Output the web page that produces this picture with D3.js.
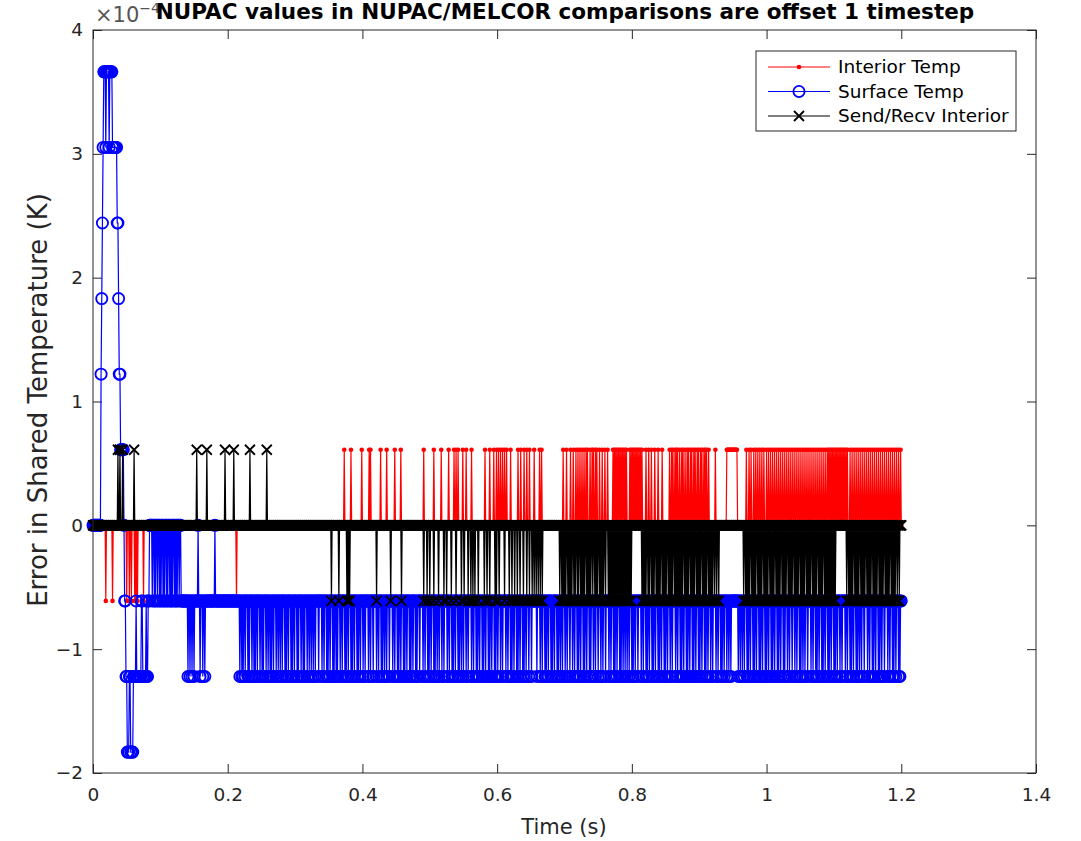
<!DOCTYPE html>
<html>
<head>
<meta charset="utf-8">
<script src="https://cdn.jsdelivr.net/npm/d3@7"></script>
<style>
body { margin: 0; background: #fff; }
svg { display: block; font-family: "DejaVu Sans", sans-serif; }
</style>
</head>
<body>
<svg id="chart" width="1081" height="841"></svg>
<script>
// time grid: one sample per millisecond, 0 .. 1.2 s
var stepMs = 1, endMs = 1200;
// every error is a whole number of this quantum (float ulp near 600 K)
var levelStep = 6.1035e-5;

var xTicks = [0, 0.2, 0.4, 0.6, 0.8, 1, 1.2, 1.4];
var yTicks = [-2e-4, -1e-4, 0, 1e-4, 2e-4, 3e-4, 4e-4];
var seriesNames = ["Interior Temp", "Surface Temp", "Send/Recv Interior"];

// base level breakpoints [ms, level]; spikes are one-sample excursions of +1 / -1 level (ms)
var redBase = [[0, 0], [941, 1], [957, 0]];
var redDown = [19, 29, 50, 54, 57, 62, 64, 66, 75, 213];
var redUp = [373, 383, 399, 410, 412, 427, 436, 448, 457, 491, 506, 517, 528, 536, 539, 542, 549, 554, 562,
  582, 589, 595, 599, 602, 605, 608, 611, 614, 620, 631, 635, 640, 644, 648, 655, 663, 666,
  698, 703, 709, 713, 717, 720, 723, 726, 729, 732, 734, 738, 741, 743, 746, 748, 752, 756, 760, 764,
  772, 774, 776, 778, 780, 782, 784, 786, 788, 790, 792,
  797, 799, 801, 803, 805, 807, 809, 811, 813, 815, 821, 825, 829, 834, 839, 845,
  856, 859, 861, 864, 866, 868, 871, 874, 876, 879, 882, 884, 887, 889, 892, 894, 897, 899, 902, 904, 907,
  909, 911, 914, 924,
  970, 974, 977, 981, 984, 987, 990, 993, 996, 1000, 1003, 1006, 1009, 1012, 1015, 1018, 1021, 1024, 1027,
  1030, 1033, 1036, 1039, 1042, 1045, 1048, 1051, 1054, 1057, 1060, 1063, 1066, 1069, 1072, 1075, 1078,
  1081, 1084, 1087, 1090, 1092, 1094, 1096, 1098, 1100, 1102, 1104, 1106, 1108, 1110, 1112, 1114, 1116,
  1118, 1120, 1124, 1127, 1130, 1133, 1136, 1139, 1142, 1145, 1148, 1151, 1154, 1157, 1160, 1163, 1166,
  1169, 1172, 1175, 1178, 1181, 1184, 1187, 1190, 1193, 1196, 1199];

var blueBase = [[0, 0], [12, 2], [13, 3], [14, 4], [15, 5], [16, 6], [19, 5], [20, 6], [24, 5], [25, 6], [29, 5],
  [36, 4], [38, 3], [39, 2], [41, 1], [46, 0], [47, -1], [49, -2], [51, -3], [54, -2], [56, -3], [60, -2],
  [64, -1], [65, -2], [72, -1], [74, -2], [79, -1], [80, -2], [82, -1], [84, 0], [131, -1]];
var blueUp = [156, 181];
var blueDown = [88, 91, 93, 96, 99, 101, 104, 106, 109, 111, 114, 116, 118, 121, 123, 125, 128,
  141, 144, 147, 150, 159, 163, 166,
  218, 221, 223, 226, 230, 232, 236, 239, 241, 244, 248, 251, 253, 257, 260, 263, 265, 268, 272, 275, 278,
  281, 285, 287, 290, 294, 296, 299, 303, 305, 309, 312, 314, 318, 321, 324, 327, 330, 335,
  340, 343, 347, 349, 352, 356, 358, 361, 363, 367, 370, 374, 376, 379, 383, 385, 388, 392, 394, 397, 401, 404,
  409, 412, 416, 421, 424, 428, 430, 433, 436, 440,
  445, 448, 452, 454, 457, 461, 463, 466, 470, 472, 475, 479, 481, 485,
  490, 493, 497, 499, 502, 506, 508, 511, 514, 518, 521,
  526, 529, 533, 535, 538, 542, 544, 547, 550, 554, 557,
  562, 565, 569, 571, 574, 578, 580, 583, 587, 589, 592, 596, 598, 601, 605, 608,
  613, 616, 620, 622, 625, 629, 631, 634, 638, 640, 643, 647, 651, 659,
  664, 667, 671, 673, 676, 680, 682, 685, 689, 691, 694, 697, 701, 704, 708,
  712, 715, 719, 721, 724, 728, 730, 733, 737, 739, 743, 746, 750, 754, 757, 761,
  766, 769, 773, 775, 778, 782, 784, 787, 790, 793, 796, 800, 802, 805, 809,
  814, 817, 821, 823, 826, 830, 832, 835, 839, 841, 844, 848, 850, 853, 857, 860,
  865, 868, 872, 874, 877, 881, 883, 886, 890, 892, 895, 899, 901, 904, 908, 910, 913, 917, 920,
  925, 928, 932, 934, 937, 941, 944, 947, 958, 961,
  964, 967, 971, 973, 976, 980, 982, 985, 989, 991, 994, 998, 1000, 1003, 1007, 1009, 1012, 1016, 1018,
  1021, 1025, 1027, 1031, 1034, 1038, 1042, 1045, 1049, 1051, 1054, 1057, 1061,
  1066, 1069, 1073, 1075, 1078, 1082, 1084, 1087, 1091, 1093, 1096, 1100, 1102, 1105, 1109, 1112,
  1117, 1120, 1124, 1126, 1129, 1133, 1135, 1138, 1141, 1145, 1150, 1153, 1157, 1159, 1162, 1166, 1168, 1171,
  1175, 1180, 1183, 1187, 1189, 1192, 1196, 1198];

var blackBase = [[0, 0]];
var blackUp = [37, 40, 44, 61, 154, 169, 196, 209, 233, 258];
var blackDown = [354, 365, 377, 379, 381, 421, 442, 458, 491, 496, 500, 506, 513, 521, 525, 532, 539, 547, 551,
  557, 561, 564, 567, 572, 581, 585, 589, 597, 599, 603, 611, 618, 622, 626, 630, 634, 639, 644, 648, 652,
  655, 658, 661, 664, 667, 693, 696, 698, 700, 702, 705, 707, 709, 711, 714, 716, 719, 721, 724, 726, 728,
  730, 733, 735, 737, 739, 742, 745, 747, 749, 752, 754, 756, 758, 761, 765, 767, 769, 771, 773, 775, 777,
  779, 781, 783, 785, 787, 789, 791, 793, 795, 797, 799, 815, 817, 819, 821, 824, 826, 829, 831, 833, 836,
  838, 840, 842, 845, 847, 849, 851, 854, 856, 858, 860, 863, 865, 867, 869, 871, 873, 875, 878, 880, 882,
  884, 887, 889, 891, 893, 896, 898, 900, 902, 905, 907, 909, 911, 914, 916, 918, 920, 923, 926, 929,
  966, 969, 971, 973, 975, 978, 980, 982, 984, 987, 989, 991, 993, 996, 998, 1000, 1002, 1005, 1007,
  1009, 1011, 1014, 1016, 1018, 1020, 1023, 1025, 1027, 1029, 1032, 1034, 1036, 1038, 1041, 1043, 1045,
  1047, 1050, 1052, 1054, 1056, 1059, 1061, 1063, 1065, 1068, 1070, 1072, 1074, 1077, 1079, 1081, 1083,
  1086, 1088, 1090, 1092, 1094, 1096, 1098, 1100, 1102, 1119, 1122, 1124, 1126, 1128, 1131, 1133, 1135,
  1137, 1140, 1142, 1144, 1146, 1149, 1151, 1153, 1155, 1158, 1160, 1162, 1164, 1167, 1169, 1171, 1173,
  1176, 1178, 1180, 1182, 1185, 1187, 1189, 1191, 1194, 1197];

// expand breakpoints + spikes into one value per sample
function buildSeries(base, up, down) {
  var lv = [], b = 0, bi = 0;
  for (var ms = 0; ms <= endMs; ms += stepMs) {
    while (bi < base.length && base[bi][0] <= ms) { b = base[bi][1]; bi++; }
    lv.push(b);
  }
  up.forEach(function (ms) { lv[ms / stepMs] += 1; });
  down.forEach(function (ms) { lv[ms / stepMs] -= 1; });
  return lv.map(function (k, i) { return { t: i * stepMs / 1000, v: k * levelStep }; });
}

var series = [
  { name: seriesNames[0], color: "#ff0000", marker: "dot", values: buildSeries(redBase, redUp, redDown) },
  { name: seriesNames[1], color: "#0000ff", marker: "circle", values: buildSeries(blueBase, blueUp, blueDown) },
  { name: seriesNames[2], color: "#000000", marker: "cross", values: buildSeries(blackBase, blackUp, blackDown) }
];

var svg = d3.select("#chart"),
    margin = { top: 30, right: 45, bottom: 68, left: 93 },
    width = 1081 - margin.left - margin.right,
    height = 841 - margin.top - margin.bottom;

var x = d3.scaleLinear().domain([0, 1.4]).range([margin.left, margin.left + width]),
    y = d3.scaleLinear().domain([-2e-4, 4e-4]).range([margin.top + height, margin.top]);

var axisColor = "#262626";

function styleAxis(g) {
  g.select(".domain").remove();
  g.selectAll(".tick line").attr("stroke", axisColor);
  g.selectAll(".tick text").attr("fill", axisColor).attr("font-size", 18.5)
    .attr("font-family", "DejaVu Sans, sans-serif");
}

svg.append("g")
  .attr("transform", "translate(0," + (margin.top + height) + ")")
  .call(d3.axisBottom(x).tickValues(xTicks).tickSizeInner(-9).tickSizeOuter(0).tickPadding(15)
    .tickFormat(d3.format("~g")))
  .call(styleAxis);

svg.append("g")
  .attr("transform", "translate(0," + margin.top + ")")
  .call(d3.axisTop(x).tickValues(xTicks).tickSizeInner(-9).tickSizeOuter(0).tickFormat(""))
  .call(styleAxis);

svg.append("g")
  .attr("transform", "translate(" + margin.left + ",0)")
  .call(d3.axisLeft(y).tickValues(yTicks).tickSizeInner(-9).tickSizeOuter(0).tickPadding(10)
    .tickFormat(function (d) { return d3.format("d")(Math.round(d * 1e4)); }))
  .call(styleAxis);

svg.append("g")
  .attr("transform", "translate(" + (margin.left + width) + ",0)")
  .call(d3.axisRight(y).tickValues(yTicks).tickSizeInner(-9).tickSizeOuter(0).tickFormat(""))
  .call(styleAxis);

// data
var line = d3.line()
  .x(function (d) { return x(d.t); })
  .y(function (d) { return y(d.v); });

var crossPath = "M-5,-5L5,5M-5,5L5,-5";

function drawMarkers(g, s, data) {
  if (s.marker === "dot") {
    g.selectAll("circle").data(data).enter().append("circle")
      .attr("cx", function (d) { return x(d.t); })
      .attr("cy", function (d) { return y(d.v); })
      .attr("r", 2.3).attr("fill", s.color);
  } else if (s.marker === "circle") {
    g.selectAll("circle").data(data).enter().append("circle")
      .attr("cx", function (d) { return x(d.t); })
      .attr("cy", function (d) { return y(d.v); })
      .attr("r", 5.6).attr("fill", "none").attr("stroke", s.color).attr("stroke-width", 1.8);
  } else {
    g.selectAll("path").data(data).enter().append("path")
      .attr("d", crossPath)
      .attr("transform", function (d) { return "translate(" + x(d.t) + "," + y(d.v) + ")"; })
      .attr("fill", "none").attr("stroke", s.color).attr("stroke-width", 1.8);
  }
}

series.forEach(function (s) {
  var g = svg.append("g").attr("class", "series");
  g.append("path")
    .attr("d", line(s.values))
    .attr("fill", "none")
    .attr("stroke", s.color)
    .attr("stroke-width", 1.2);
  drawMarkers(g.append("g"), s, s.values);
});

// box
svg.append("rect")
  .attr("x", margin.left).attr("y", margin.top)
  .attr("width", width).attr("height", height)
  .attr("fill", "none").attr("stroke", axisColor).attr("stroke-width", 1);

// exponent label
var expo = svg.append("text").attr("x", 95).attr("y", 22)
  .attr("font-size", 21).attr("fill", "#555").text("×10");
expo.append("tspan").attr("font-size", 14).attr("dy", -9).text("−4");

// title
svg.append("text")
  .attr("x", 565).attr("y", 19)
  .attr("text-anchor", "middle")
  .attr("font-size", 21.5).attr("font-weight", "bold").attr("fill", "#000")
  .text("NUPAC values in NUPAC/MELCOR comparisons are offset 1 timestep");

// axis labels
svg.append("text")
  .attr("x", 564).attr("y", 834)
  .attr("text-anchor", "middle").attr("font-size", 21).attr("fill", axisColor)
  .text("Time (s)");

svg.append("text")
  .attr("transform", "translate(47,400) rotate(-90)")
  .attr("text-anchor", "middle").attr("font-size", 26).attr("fill", axisColor)
  .text("Error in Shared Temperature (K)");

// legend
var legend = svg.append("g").attr("transform", "translate(756,51)");
legend.append("rect").attr("width", 260).attr("height", 80)
  .attr("fill", "#fff").attr("stroke", axisColor).attr("stroke-width", 1);

series.forEach(function (s, i) {
  var row = legend.append("g").attr("transform", "translate(0," + (16 + i * 24.5) + ")");
  row.append("line").attr("x1", 12).attr("x2", 74).attr("stroke", s.color).attr("stroke-width", 1);
  drawMarkers(row.append("g"), s, [{ t: x.invert(756 + 43), v: y.invert(51 + 16 + i * 24.5) }]);
  row.select("g").attr("transform", "translate(-756," + (-(51 + 16 + i * 24.5)) + ")");
  row.append("text").attr("x", 82).attr("dy", "0.35em")
    .attr("font-size", 18.5).attr("fill", "#000").text(s.name);
});
</script>
</body>
</html>
